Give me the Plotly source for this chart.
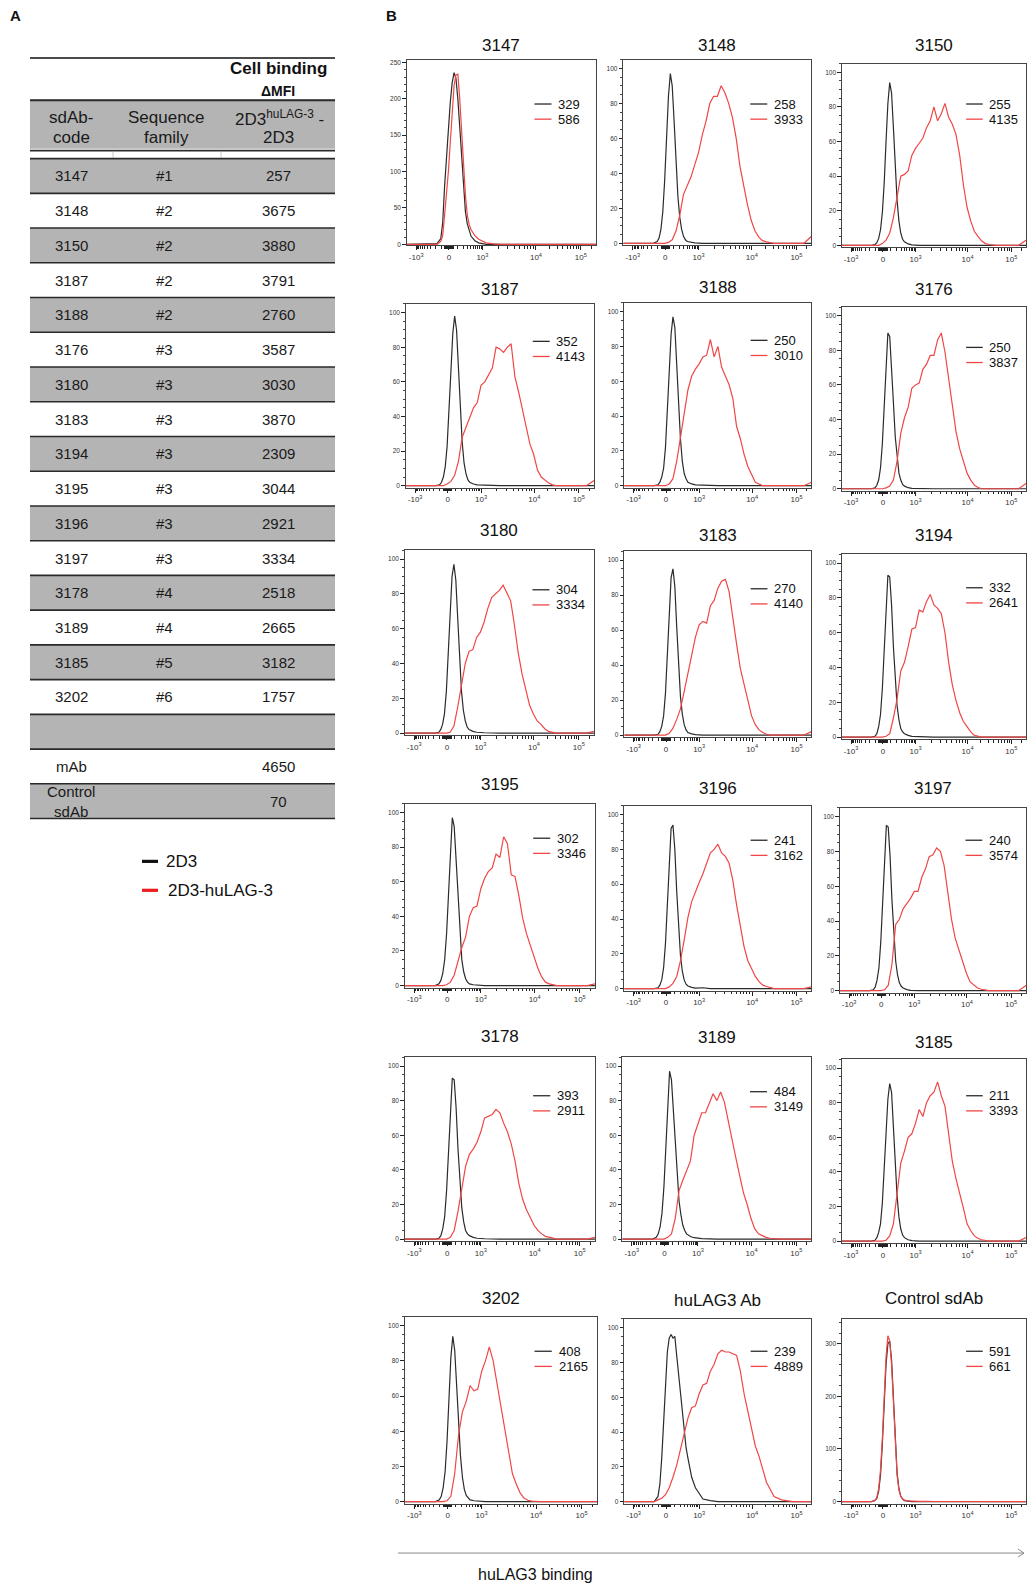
import numpy as np
import plotly.graph_objects as go

W, H = 1027, 1586
SC = 1027 / 1015  # reference measured on shrunk copy

# ---------------- DATA ----------------
PANEL_TITLES = ["3147", "3148", "3150", "3187", "3188", "3176", "3180", "3183", "3194",
                "3195", "3196", "3197", "3178", "3189", "3185", "3202", "huLAG3 Ab", "Control sdAb"]
MFI_2D3 = [329, 258, 255, 352, 250, 250, 304, 270, 332, 302, 241, 240, 393, 484, 211, 408, 239, 591]
MFI_2D3_HULAG3 = [586, 3933, 4135, 4143, 3010, 3837, 3334, 4140, 2641, 3346, 3162, 3574, 2911, 3149,
                  3393, 2165, 4889, 661]

# x in display (biexponential) channel units, 0-100 across the plot
BLACK_X = [0, 14, 16, 18, 19, 20, 21, 22, 23, 24, 25, 26, 27, 28, 29, 30, 31, 32, 33, 34, 36, 38, 42, 46, 50, 100]
RED_X = [0, 16, 18, 20, 22, 24, 26, 28, 30, 32, 34, 36, 38, 40, 42, 44, 46, 48, 50, 52, 54, 56, 58, 60,
         62, 64, 66, 68, 70, 72, 74, 76, 78, 80, 84, 90, 96, 100]

black_3147 = [0, 0, 1, 8, 30, 80, 125, 157, 195, 222, 236, 228, 200, 160, 111, 75, 45, 28, 18, 11, 5, 2, 0, 0, 0, 0]
red_3147 = [0, 0, 0, 4, 12, 40, 68, 100, 140, 180, 218, 233, 234, 200, 150, 102, 68, 40, 27, 20, 12, 7, 2, 0.5, 0, 0]
black_3148 = [0, 0, 0, 1, 3, 8, 18, 36, 60, 84, 97, 90, 70, 46, 27, 15, 8, 4, 2, 1, 0.5, 0.2, 0, 0, 0, 0]
red_3148 = [0, 0, 0, 0, 0, 0.5, 2, 7, 16, 28, 33, 38, 45, 52, 62, 70, 80, 84, 84, 90, 86, 80, 72, 60,
            44, 32, 22, 13, 7, 3.5, 1.5, 0.8, 0.3, 0, 0, 0, 0, 4]
black_3150 = [0, 0, 0, 0.5, 1.5, 4, 9, 19, 36, 60, 82, 94, 88, 68, 45, 26, 14, 7, 3.5, 2, 0.8, 0.3, 0, 0, 0, 0]
red_3150 = [0, 0, 0, 0, 1, 3, 7, 16, 28, 40, 41, 43, 52, 56, 59, 62, 68, 72, 80, 72, 76, 82, 74, 70,
            64, 52, 35, 22, 14, 8, 5, 2.5, 1, 0.5, 0, 0, 0, 3]
black_3187 = [0, 0, 0, 0.5, 2, 5, 11, 23, 42, 66, 88, 98, 90, 68, 44, 25, 13, 7, 3.5, 2, 1, 0.5, 0.3, 0, 0, 0]
red_3187 = [0, 0, 0, 0, 1, 2.5, 6, 14, 28, 34, 39, 45, 48, 58, 60, 64, 68, 80, 79, 77, 80, 82, 63, 54,
            44, 35, 24, 18, 9, 5, 3, 1.5, 0.5, 0, 0, 0, 0, 3]
black_3188 = [0, 0, 0, 0.5, 2, 5, 10, 22, 40, 65, 87, 97, 91, 70, 46, 27, 14, 7, 4, 2, 1, 0.5, 0.3, 0, 0, 0]
red_3188 = [0, 0, 0, 0, 0, 1, 4, 14, 28, 42, 55, 63, 67, 70, 74, 75, 84, 74, 80, 68, 63, 58, 50, 34,
            27, 18, 11, 6, 2, 1, 0, 0, 0, 0, 0, 0, 0, 2]
black_3176 = [0, 0, 0, 0.5, 2, 5, 12, 26, 48, 72, 90, 88, 72, 50, 30, 17, 9, 5, 2.5, 1.5, 0.6, 0.2, 0, 0, 0, 0]
red_3176 = [0, 0, 0, 0, 0, 0.5, 1.5, 5, 16, 32, 41, 47, 58, 60, 61, 69, 72, 77, 77, 86, 90, 79, 63, 47,
            33, 23, 16, 9, 5, 2, 0.7, 0, 0, 0, 0, 0, 0, 3]
black_3180 = [0, 0, 0, 0.5, 2, 5, 11, 24, 44, 68, 90, 97, 88, 66, 42, 24, 13, 7, 3.5, 2, 1, 0.5, 0.2, 0, 0, 0]
red_3180 = [0, 0, 0, 0, 0, 0.5, 4, 15, 28, 40, 47, 48, 55, 58, 64, 72, 78, 80, 82, 85, 80, 76, 62, 46,
            34, 24, 16, 11, 7, 5, 2.5, 1, 0.5, 0, 0, 0, 0, 1]
black_3183 = [0, 0, 0, 0.5, 2, 5, 11, 24, 44, 68, 90, 95, 85, 62, 40, 22, 12, 6, 3, 1.5, 0.7, 0.3, 0, 0, 0, 0]
red_3183 = [0, 0, 0, 0, 0, 1, 4, 9, 15, 25, 35, 47, 56, 63, 65, 64, 74, 77, 84, 88, 89, 82, 66, 52,
            38, 29, 20, 11, 6, 3, 1.5, 0.5, 0, 0, 0, 0, 0, 2]
black_3194 = [0, 0, 0, 0.5, 2, 6, 13, 28, 50, 75, 93, 92, 76, 52, 32, 18, 10, 5, 3, 2, 1, 0.5, 0.3, 0, 0, 0]
red_3194 = [0, 0, 0, 0, 0, 0.5, 2, 11, 22, 38, 43, 52, 62, 63, 73, 72, 78, 82, 76, 74, 71, 60, 43, 30,
            21, 14, 9, 6, 3, 1, 0.5, 0, 0, 0, 0, 0, 0, 0]
black_3195 = [0, 0, 0, 1, 3, 7, 15, 30, 54, 80, 97, 92, 72, 48, 28, 15, 8, 4, 2, 1, 0.5, 0.2, 0, 0, 0, 0]
red_3195 = [0, 0, 0, 0, 0.5, 2, 6, 14, 22, 28, 40, 45, 46, 56, 62, 66, 68, 76, 74, 86, 82, 64, 63, 52,
            39, 30, 23, 16, 10, 5, 2, 1, 0.3, 0, 0, 0, 0, 1]
black_3196 = [0, 0, 0, 0.5, 2, 5, 12, 26, 48, 73, 92, 94, 80, 56, 34, 19, 10, 5, 2.5, 1.5, 0.7, 0.3, 0.5, 0, 0, 0]
red_3196 = [0, 0, 0, 0, 0, 1, 3, 7, 16, 28, 41, 50, 56, 61, 66, 72, 78, 80, 83, 78, 76, 72, 62, 48,
            35, 24, 16, 11, 7, 4, 2, 1.2, 0.5, 0, 0, 0, 0, 1]
black_3197 = [0, 0, 0, 0.5, 2, 6, 13, 28, 51, 77, 95, 94, 77, 52, 31, 17, 9, 4.5, 2.5, 1.5, 0.6, 0.2, 0, 0, 0, 0]
red_3197 = [0, 0, 0, 0, 0, 0.5, 3, 15, 38, 41, 47, 50, 53, 57, 57, 65, 70, 77, 78, 82, 80, 72, 56, 41,
            30, 23, 16, 10, 5, 3, 1.5, 0.8, 0.3, 0, 0, 0, 0, 3]
black_3178 = [0, 0, 0, 0.5, 2, 6, 13, 28, 50, 75, 93, 92, 76, 52, 32, 18, 10, 5, 3, 2, 1, 0.5, 0.2, 0, 0, 0]
red_3178 = [0, 0, 0, 0, 0, 1, 5, 16, 29, 42, 49, 52, 56, 62, 70, 71, 72, 75, 73, 67, 62, 55, 45, 32,
            23, 17, 12, 8, 5, 3, 1.6, 1, 0.4, 0, 0, 0, 0, 1]
black_3189 = [0, 0, 0, 1, 3, 7, 15, 30, 54, 80, 97, 92, 74, 52, 34, 22, 14, 8, 5, 3, 1.5, 0.8, 0.3, 0, 0, 0]
red_3189 = [0, 0, 0, 0, 0, 1, 3, 12, 28, 34, 40, 45, 60, 66, 73, 73, 79, 84, 80, 85, 79, 69, 57, 47,
            37, 27, 20, 12, 6, 3, 2, 1, 0.5, 0.3, 0, 0, 0, 0]
black_3185 = [0, 0, 0, 0.5, 2, 5, 10, 22, 40, 63, 82, 91, 86, 66, 44, 26, 14, 7, 3.5, 2, 0.8, 0.3, 0, 0, 0, 0]
red_3185 = [0, 0, 0, 0, 0, 0.5, 3, 10, 27, 45, 52, 60, 62, 68, 76, 72, 80, 84, 86, 92, 84, 78, 62, 46,
            36, 28, 19, 10, 6, 3, 1.5, 0.8, 0.3, 0, 0, 0, 0, 2]
black_3202 = [0, 0, 0, 1, 3, 8, 17, 34, 58, 82, 94, 86, 66, 44, 26, 14, 7, 3.5, 2, 1, 0.5, 0.2, 0, 0, 0, 0]
red_3202 = [0, 0, 0, 0, 0.5, 3, 16, 38, 51, 57, 66, 63, 64, 74, 80, 88, 80, 67, 54, 40, 28, 16, 10, 5,
            2, 0.8, 0.3, 0, 0, 0, 0, 0, 0, 0, 0, 0, 0, 0]
black_hulag3 = [0, 0, 0, 3, 10, 25, 45, 68, 86, 94, 96, 94, 95, 84, 73, 62, 50, 40, 31, 25, 14, 8, 1.5, 0.6, 0, 0]
red_hulag3 = [0, 0, 1, 2, 4, 8, 14, 21, 30, 40, 48, 54, 55, 62, 67, 68, 75, 79, 85, 87, 86, 86, 85, 84,
              75, 62, 52, 42, 32, 26, 18, 11, 7, 3, 1, 0, 0, 0]
black_control = [0, 0, 0, 2, 6, 20, 50, 110, 190, 260, 300, 305, 270, 190, 110, 55, 25, 10, 5, 2, 1, 0, 0, 0, 0, 0]
red_control = [0, 0, 0, 2, 8, 25, 60, 120, 200, 275, 315, 305, 260, 180, 100, 50, 22, 10, 5, 3, 1.5, 1, 0.5, 0.5, 0.3, 0]

BLACK_Y = [black_3147, black_3148, black_3150, black_3187, black_3188, black_3176, black_3180,
           black_3183, black_3194, black_3195, black_3196, black_3197, black_3178, black_3189,
           black_3185, black_3202, black_hulag3, black_control]
RED_Y = [red_3147, red_3148, red_3150, red_3187, red_3188, red_3176, red_3180, red_3183, red_3194,
         red_3195, red_3196, red_3197, red_3178, red_3189, red_3185, red_3202, red_hulag3, red_control]

# table (panel A)
SDAB_CODES = ["3147", "3148", "3150", "3187", "3188", "3176", "3180", "3183", "3194", "3195",
              "3196", "3197", "3178", "3189", "3185", "3202"]
SEQ_FAMILY = ["#1", "#2", "#2", "#2", "#2", "#3", "#3", "#3", "#3", "#3", "#3", "#3", "#4", "#4", "#5", "#6"]
DELTA_MFI = [257, 3675, 3880, 3791, 2760, 3587, 3030, 3870, 2309, 3044, 2921, 3334, 2518, 2665, 3182, 1757]
CONTROL_LABELS = ["mAb", "Control<br>sdAb"]
CONTROL_DMFI = [4650, 70]

XTICK_TEXT = ["-10<sup>3</sup>", "0", "10<sup>3</sup>", "10<sup>4</sup>", "10<sup>5</sup>"]
XTICK_VALUES = [-1000, 0, 1000, 10000, 100000]

# ---------------- LAYOUT HELPERS ----------------
XTICK_POS = [5, 22.3, 40, 68.3, 92]
def to_display(v):
    g = np.arcsinh(np.asarray(v, float) / 150.0)
    gm = np.arcsinh(np.asarray(XTICK_VALUES, float) / 150.0)
    return np.interp(g, gm, XTICK_POS)

minor_vals = ([-v for v in range(100, 1000, 100)] + [-50, -40, -30, -20, -10, 10, 20, 30, 40, 50]
              + list(range(100, 1000, 100)) + list(range(2000, 10000, 1000))
              + list(range(20000, 100000, 10000)))
MINOR_POS = [float(p) for p in to_display(minor_vals)] + [97.5]

# panel boxes (x0, x1, ytop, ybottom) and title centre y, in shrunk-reference pixels
BOX = [(402, 589, 58, 242, 44), (616, 802, 58, 242, 44), (832, 1015, 62, 244, 44),
       (401, 587, 300, 482, 286), (617, 802, 299, 482, 284), (832, 1015, 303, 485, 286),
       (400, 587, 544, 727, 524), (617, 802, 545, 729, 529), (832, 1015, 548, 731, 529),
       (400, 588, 795, 977, 776), (617, 802, 797, 980, 780), (830, 1015, 799, 982, 780),
       (400, 588, 1046, 1228, 1025), (615, 802, 1046, 1228, 1026), (832, 1015, 1048, 1230, 1031),
       (400, 590, 1303, 1488, 1285), (617, 802, 1305, 1488, 1287), (832, 1015, 1305, 1488, 1285)]
LEG_DY = [44, 44, 40, 37, 37, 40, 39, 37, 33, 34, 34, 32, 38, 34, 36, 34, 32, 32]

def PX(x):
    return x / W
def PY(y):
    return 1 - y / H

FONT = "Arial, Liberation Sans, sans-serif"
BLACK = "#2b2b2b"
RED = "#f04646"

fig = go.Figure()
layout = dict(width=W, height=H, margin=dict(l=0, r=0, t=0, b=0), autosize=False,
              paper_bgcolor="white", plot_bgcolor="white", showlegend=False,
              font=dict(family=FONT, color="#111"))
shapes = []
annotations = []

def text(txt, x, y, size, xanchor="center", color="#111"):
    annotations.append(dict(text=txt, x=PX(x), y=PY(y), xref="paper", yref="paper", showarrow=False,
                            xanchor=xanchor, yanchor="middle", font=dict(size=size, color=color)))

def hline(x0, x1, y, color, width):
    shapes.append(dict(type="line", xref="paper", yref="paper", x0=PX(x0), x1=PX(x1), y0=PY(y), y1=PY(y),
                       line=dict(color=color, width=width)))

for i in range(18):
    n = "" if i == 0 else str(i + 1)
    x0, x1, yt, yb, ty = [v * SC for v in BOX[i]]
    x1 = min(x1, W - 1)
    rx = RED_X if len(RED_Y[i]) == len(RED_X) else BLACK_X
    fig.add_trace(go.Scatter(x=BLACK_X, y=BLACK_Y[i], mode="lines", line=dict(color=BLACK, width=1.2),
                             xaxis="x" + n, yaxis="y" + n, hoverinfo="skip"))
    fig.add_trace(go.Scatter(x=rx, y=RED_Y[i], mode="lines", line=dict(color=RED, width=1.2),
                             xaxis="x" + n, yaxis="y" + n, hoverinfo="skip"))
    if PANEL_TITLES[i] == "3147":
        yr, ytv, ydt = [-1.5, 254], [0, 50, 100, 150, 200, 250], 10
    elif PANEL_TITLES[i] == "Control sdAb":
        yr, ytv, ydt = [-4, 347], [0, 100, 200, 300], 20
    else:
        yr, ytv, ydt = [-1.2, 105], [0, 20, 40, 60, 80, 100], 5
    layout["xaxis" + n] = dict(domain=[PX(x0), PX(x1)], anchor="y" + n, range=[0, 100],
                               showline=True, mirror=True, linecolor="#444", linewidth=1,
                               ticks="outside", ticklen=4, tickcolor="#222", tickwidth=1.2,
                               tickmode="array", tickvals=XTICK_POS, ticktext=XTICK_TEXT,
                               tickfont=dict(size=8, color="#333", family=FONT),
                               showgrid=False, zeroline=False, fixedrange=True,
                               minor=dict(tickmode="array", tickvals=MINOR_POS, ticks="outside",
                                          ticklen=2.5, tickcolor="#222", showgrid=False))
    layout["yaxis" + n] = dict(domain=[PY(yb), PY(yt)], anchor="x" + n, range=yr,
                               showline=True, mirror=True, linecolor="#444", linewidth=1,
                               ticks="outside", ticklen=3.5, tickcolor="#222",
                               tickmode="array", tickvals=ytv,
                               tickfont=dict(size=6.5, color="#333", family=FONT),
                               showgrid=False, zeroline=False, fixedrange=True,
                               minor=dict(dtick=ydt, tick0=0, ticks="outside", ticklen=2,
                                          tickcolor="#444", showgrid=False))
    text(PANEL_TITLES[i], (x0 + x1) / 2, ty, 17)
    bw = x1 - x0
    ly1 = yt + LEG_DY[i] * SC
    ly2 = ly1 + 15 * SC
    for ly, col, val in ((ly1, BLACK, MFI_2D3[i]), (ly2, RED, MFI_2D3_HULAG3[i])):
        hline(x0 + 0.675 * bw, x0 + 0.765 * bw, ly, col, 1.3)
        text(str(val), x0 + 0.79 * bw, ly, 13, xanchor="left")

# ---------------- TABLE (panel A) ----------------
TL, TR = 30, 335
GRAY = "#b4b4b4"
LINE = "#2a2a2a"
C1, C2, C3 = 71, 166, 278
hline(TL, TR, 57, "#111", 1.5)
text("<b>Cell binding</b>", 278, 68, 17)
text("<b>ΔMFI</b>", 278, 90, 14)
shapes.append(dict(type="rect", xref="paper", yref="paper", x0=PX(TL), x1=PX(TR), y0=PY(148), y1=PY(99),
                   fillcolor=GRAY, line=dict(width=0), layer="below"))
hline(TL, TR, 99.5, LINE, 2)
for txt, cx, cy in (("sdAb-", C1, 117), ("code", C1, 137), ("Sequence", C2, 117), ("family", C2, 137),
                    ("2D3<sup>huLAG-3</sup> -", C3 + 1, 117), ("2D3", C3, 137)):
    text(txt, cx, cy, 17, color="#1a1a1a")
hline(TL, TR, 150, LINE, 1.8)
for vx in (113, 221):
    shapes.append(dict(type="line", xref="paper", yref="paper", x0=PX(vx), x1=PX(vx), y0=PY(151), y1=PY(157),
                       line=dict(color="#c8c8c8", width=1)))

ROW0, ROWH = 157.9, 34.8
codes = SDAB_CODES + ["", CONTROL_LABELS[0], CONTROL_LABELS[1]]
fams = SEQ_FAMILY + ["", "", ""]
vals = [str(v) for v in DELTA_MFI] + ["", str(CONTROL_DMFI[0]), str(CONTROL_DMFI[1])]
for k in range(len(codes)):
    top = ROW0 + ROWH * k
    if k % 2 == 0:
        shapes.append(dict(type="rect", xref="paper", yref="paper", x0=PX(TL), x1=PX(TR),
                           y0=PY(top + ROWH), y1=PY(top), fillcolor=GRAY, line=dict(width=0), layer="below"))
    cy = top + ROWH / 2
    for txt, cx in ((codes[k], C1), (fams[k], C2 - 2), (vals[k], C3)):
        if txt:
            text(txt, cx, cy, 15, color="#1a1a1a")
for k in range(len(codes) + 1):
    hline(TL, TR, ROW0 + ROWH * k, LINE, 1.6)

# figure legend below table
for ly, col, txt, tx in ((862, "#111", "2D3", 164), (891, "#ee1c1c", "2D3-huLAG-3", 166)):
    hline(142, 158, ly, col, 3.2)
    text(txt, tx, ly, 17, xanchor="left")

# panel letters
text("<b>A</b>", 15, 15, 15)
text("<b>B</b>", 391, 15, 15)

# bottom axis arrow and label
hline(398, 1024, 1555, "#8a8a8a", 1)
for dy in (-4, 4):
    shapes.append(dict(type="line", xref="paper", yref="paper", x0=PX(1018), x1=PX(1024), y0=PY(1555 + dy),
                       y1=PY(1555), line=dict(color="#8a8a8a", width=1)))
text("huLAG3 binding", 535, 1576, 16)

layout["shapes"] = shapes
layout["annotations"] = annotations
fig.update_layout(**layout)
fig.write_html("out.html")
